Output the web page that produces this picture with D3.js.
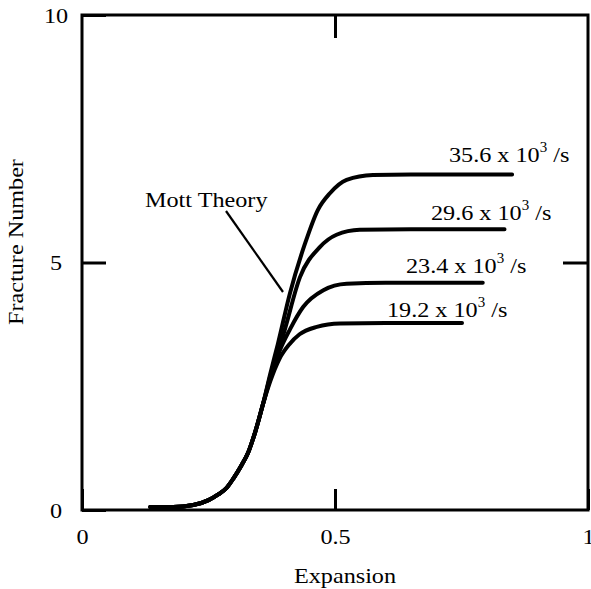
<!DOCTYPE html>
<html>
<head>
<meta charset="utf-8">
<script src="https://cdn.jsdelivr.net/npm/d3@7"></script>
<style>
  html, body { margin: 0; padding: 0; background: #fff; }
  svg { display: block; }
  text { font-family: "Liberation Serif", "Times New Roman", serif; fill: #000; }
</style>
</head>
<body>
<svg id="chart" width="591" height="589"></svg>
<script>
// ---- data ----
const xTicks = [0, 0.5, 1];
const yTicks = [0, 5, 10];
const xTickLabels = ["0", "0.5", "1"];
const yTickLabels = ["0", "5", "10"];

const seriesNames = ["35.6", "29.6", "23.4", "19.2"];

// shared rising part (all series overlap)
const sharedX = [0.135, 0.18, 0.22, 0.25, 0.27, 0.286, 0.30, 0.315, 0.328, 0.343, 0.358];
const sharedY = [0.06, 0.06, 0.10, 0.20, 0.32, 0.45, 0.65, 0.90, 1.15, 1.60, 2.15];

const s356X = [0.372, 0.387, 0.411, 0.441, 0.466, 0.49, 0.523, 0.575, 0.65, 0.85];
const s356Y = [2.75, 3.35, 4.38, 5.39, 6.06, 6.40, 6.67, 6.77, 6.78, 6.78];

const s296X = [0.372, 0.387, 0.398, 0.431, 0.47, 0.503, 0.549, 0.65, 0.835];
const s296Y = [2.70, 3.20, 3.55, 4.71, 5.31, 5.56, 5.66, 5.67, 5.67];

const s234X = [0.372, 0.39, 0.411, 0.437, 0.477, 0.523, 0.60, 0.792];
const s234Y = [2.65, 3.20, 3.65, 4.10, 4.44, 4.57, 4.59, 4.59];

const s192X = [0.372, 0.39, 0.41, 0.43, 0.464, 0.51, 0.60, 0.751];
const s192Y = [2.60, 3.05, 3.35, 3.55, 3.70, 3.77, 3.78, 3.78];

// ---- chart ----
const svg = d3.select("#chart");
const L = 82, R = 588, T = 15, B = 510;

const x = d3.scaleLinear().domain([0, 1]).range([L, R]);
const y = d3.scaleLinear().domain([0, 10]).range([B, T]);

const FS = 22;   // font size
const SX = 1.1;  // horizontal stretch of the lettering

// frame
svg.append("rect")
  .attr("x", L).attr("y", T).attr("width", R - L).attr("height", B - T)
  .attr("fill", "none").attr("stroke", "#000").attr("stroke-width", 3);

// axes (inward ticks)
const bottomAxis = svg.append("g").attr("transform", `translate(0,${B})`)
  .call(d3.axisBottom(x).tickValues(xTicks).tickSize(-21).tickPadding(27)
    .tickFormat((d, i) => xTickLabels[i]));
const topAxis = svg.append("g").attr("transform", `translate(0,${T})`)
  .call(d3.axisTop(x).tickValues([0.5]).tickSize(-23).tickFormat(""));
const leftAxis = svg.append("g").attr("transform", `translate(${L},0)`)
  .call(d3.axisLeft(y).tickValues(yTicks).tickSize(-24).tickPadding(26)
    .tickFormat((d, i) => yTickLabels[i]));
const rightAxis = svg.append("g").attr("transform", `translate(${R},0)`)
  .call(d3.axisRight(y).tickValues([5]).tickSize(-25).tickFormat(""));

[bottomAxis, topAxis, leftAxis, rightAxis].forEach(g => {
  g.select(".domain").remove();
  g.selectAll(".tick line").attr("stroke", "#000").attr("stroke-width", 3);
  g.selectAll(".tick text")
    .style("font-family", '"Liberation Serif", "Times New Roman", serif')
    .attr("font-size", FS).attr("fill", "#000");
});
leftAxis.selectAll(".tick text")
  .attr("text-anchor", "middle").attr("x", 0)
  .attr("transform", `translate(-26,0) scale(${SX},1)`);
bottomAxis.selectAll(".tick text").attr("dy", "0.3em")
  .attr("transform", `scale(${SX},1)`);

// curves
const line = d3.line().x(d => x(d[0])).y(d => y(d[1])).curve(d3.curveMonotoneX);
const seriesData = [
  [s356X, s356Y], [s296X, s296Y], [s234X, s234Y], [s192X, s192Y]
].map(([xs, ys]) => {
  const pts = sharedX.map((v, i) => [v, sharedY[i]]);
  xs.forEach((v, i) => pts.push([v, ys[i]]));
  return pts;
});

svg.append("g").selectAll("path").data(seriesData).join("path")
  .attr("d", line)
  .attr("fill", "none").attr("stroke", "#000")
  .attr("stroke-width", 4).attr("stroke-linecap", "round");

function addText(px, py, anchor, rot) {
  return svg.append("text")
    .attr("transform", `translate(${px},${py})${rot ? " rotate(" + rot + ")" : ""} scale(${SX},1)`)
    .attr("text-anchor", anchor || "start")
    .attr("font-size", FS);
}

// series labels
const labelPos = [
  { x: 449, y: 162 },
  { x: 431, y: 220 },
  { x: 406, y: 273 },
  { x: 387, y: 317 }
];
seriesNames.forEach((n, i) => {
  const t = addText(labelPos[i].x, labelPos[i].y);
  t.append("tspan").text(n + " x 10");
  t.append("tspan").attr("font-size", FS * 0.62).attr("dy", "-0.75em").text("3");
  t.append("tspan").attr("dy", "0.45em").attr("font-size", FS).text(" /s");
});

// Mott Theory annotation
addText(145, 207).text("Mott Theory");
svg.append("line")
  .attr("x1", 226).attr("y1", 211).attr("x2", 283).attr("y2", 292)
  .attr("stroke", "#000").attr("stroke-width", 2.2);

// axis titles
addText(345, 583, "middle").text("Expansion");
addText(23, 242, "middle", -90).text("Fracture Number");
</script>
</body>
</html>
